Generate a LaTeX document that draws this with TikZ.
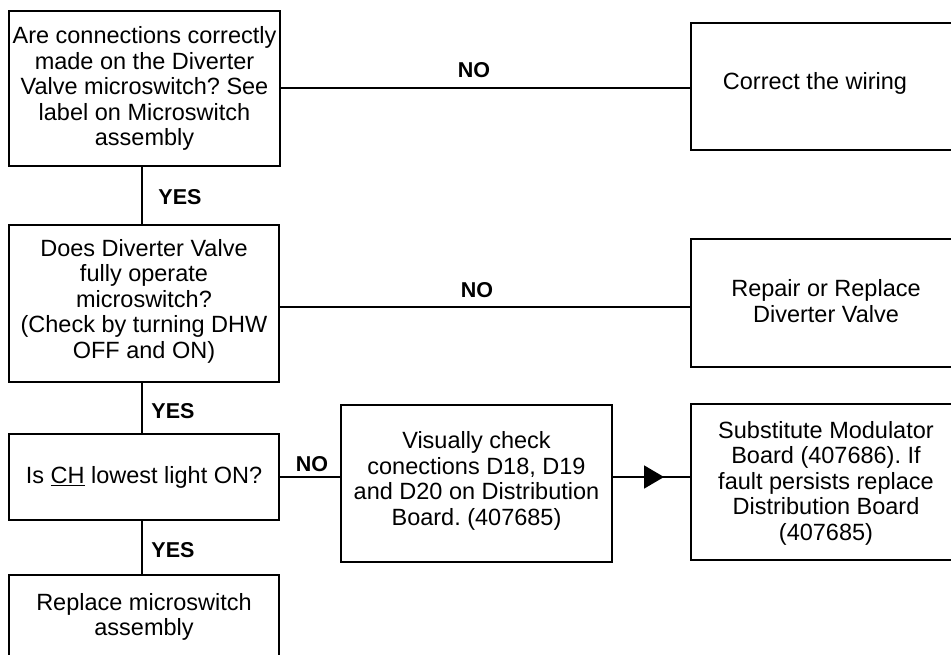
\documentclass[tikz,border=0pt]{standalone}
\usepackage{fontspec}
\setmainfont{Liberation Sans}
\usetikzlibrary{arrows.meta,decorations.markings}
\frenchspacing
\begin{document}
\begin{tikzpicture}[x=1pt,y=-1pt,
  box/.style={draw, line width=2pt, rectangle, inner sep=0pt},
  boxtext/.style={align=center, font=\fontsize{23.5}{25.5}\selectfont},
  wire/.style={line width=1.8pt},
  answer/.style={font=\bfseries\fontsize{21.5}{23}\selectfont, inner sep=0pt},
  midarrow/.style={postaction={decorate}, decoration={markings,
      mark=at position #1 with {\arrow{Triangle[length=20pt,width=23pt]}}}}]
\useasboundingbox (0,0) rectangle (951,654);

% left column of questions
\node[box, minimum width=271pt, minimum height=155pt] (q1) at (144.5,88.5) {};
\node[boxtext] at (144.5,88.5) {Are connections correctly\\made on the Diverter\\Valve microswitch? See\\label on Microswitch\\assembly};

\node[box, minimum width=270pt, minimum height=157pt] (q2) at (144,303.5) {};
\node[boxtext] at (144,301) {Does Diverter Valve\\fully operate\\microswitch?\\(Check by turning DHW\\OFF and ON)};

\node[box, minimum width=270pt, minimum height=86pt] (q3) at (144,477) {};
\node[boxtext] at (144,477) {Is \underline{CH} lowest light ON?};

\node[box, minimum width=270pt, minimum height=95pt] (q4) at (144,622.5) {};
\node[boxtext] at (144,617) {Replace microswitch\\assembly};

% middle check
\node[box, minimum width=271pt, minimum height=157pt] (chk) at (476.5,483.5) {};
\node[boxtext] at (476.5,481) {Visually check\\conections D18, D19\\and D20 on Distribution\\Board. (407685)};

% right column of actions
\node[box, minimum width=271pt, minimum height=127pt] (fix1) at (826.5,86.5) {};
\node[boxtext] at (815,83) {Correct the wiring};

\node[box, minimum width=271pt, minimum height=128pt] (fix2) at (826.5,303) {};
\node[boxtext] at (826,301) {Repair or Replace\\Diverter Valve};

\node[box, minimum width=271pt, minimum height=156pt] (fix3) at (826.5,482) {};
\node[boxtext] at (826,483) {Substitute Modulator\\Board (407686). If\\fault persists replace\\Distribution Board\\(407685)};

% connectors
\coordinate (r1) at (280,88);
\coordinate (r2) at (279,307);
\coordinate (r3) at (279,477);
\draw[wire] (r1) -- (fix1.west |- r1);
\draw[wire] (r2) -- (fix2.west |- r2);
\draw[wire] (r3) -- (chk.west |- r3);
\draw[wire, midarrow=51pt] (chk.east |- r3) -- (fix3.west |- r3);

\draw[wire] (q1.south -| 142,0) -- (q2.north -| 142,0);
\draw[wire] (q2.south -| 142,0) -- (q3.north -| 142,0);
\draw[wire] (q3.south -| 142,0) -- (q4.north -| 142,0);

% answer labels
\node[answer] (no1) at (474,70) {NO};
\node[answer] (no2) at (477,290) {NO};
\node[answer] (no3) at (312,464.5) {NO};
\node[answer] (yes1) at (180,197) {YES};
\node[answer] (yes2) at (173,411.5) {YES};
\node[answer] (yes3) at (173,550) {YES};
\end{tikzpicture}
\end{document}
